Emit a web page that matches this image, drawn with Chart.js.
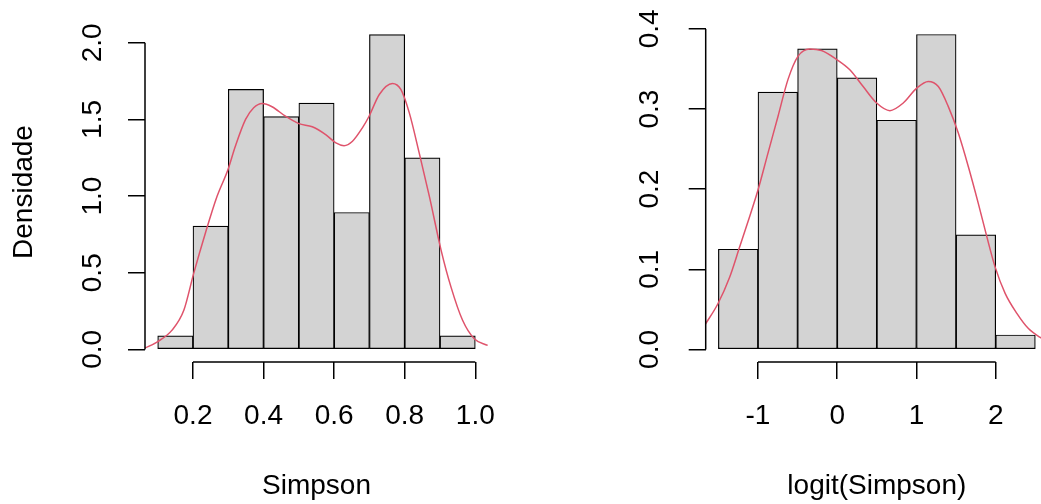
<!DOCTYPE html>
<html>
<head>
<meta charset="utf-8">
<script src="https://cdn.jsdelivr.net/npm/chart.js@4"></script>
<style>
  html, body { margin: 0; padding: 0; background: #fff; overflow: hidden; width: 1041px; height: 504px; }
  .panel { position: absolute; top: 0; }
</style>
</head>
<body>
<div class="panel" style="left:0"><canvas id="simpsonChart" width="520" height="504"></canvas></div>
<div class="panel" style="left:520px"><canvas id="logitChart" width="540" height="504"></canvas></div>
<script>
// histogram of Simpson (bin midpoints and density)
const simpsonMids = [0.15, 0.25, 0.35, 0.45, 0.55, 0.65, 0.75, 0.85, 0.95]
const simpsonDensity = [0.089, 0.804, 1.696, 1.518, 1.607, 0.893, 2.054, 1.25, 0.089]
// kernel density curve
const simpsonCurveX = [0.060, 0.098, 0.140, 0.174, 0.202, 0.235, 0.268, 0.299, 0.320, 0.349, 0.372, 0.396, 0.424, 0.462, 0.500, 0.538, 0.576, 0.605, 0.628, 0.652, 0.680, 0.699, 0.728, 0.765, 0.789, 0.813, 0.841, 0.870, 0.903, 0.931, 0.964, 0.997, 1.035]
const simpsonCurveY = [0.005, 0.048, 0.124, 0.255, 0.496, 0.758, 0.997, 1.172, 1.325, 1.500, 1.576, 1.604, 1.583, 1.521, 1.473, 1.452, 1.401, 1.347, 1.329, 1.358, 1.445, 1.521, 1.663, 1.735, 1.696, 1.543, 1.282, 0.997, 0.648, 0.408, 0.190, 0.070, 0.026]
const simpsonXTicks = [0.2, 0.4, 0.6, 0.8, 1.0]
const simpsonXLabels = ['0.2', '0.4', '0.6', '0.8', '1.0']
const simpsonYTicks = [0, 0.5, 1, 1.5, 2]
const simpsonYLabels = ['0.0', '0.5', '1.0', '1.5', '2.0']

// histogram of logit(Simpson)
const logitMids = [-1.25, -0.75, -0.25, 0.25, 0.75, 1.25, 1.75, 2.25]
const logitDensity = [0.125, 0.321, 0.375, 0.339, 0.286, 0.393, 0.143, 0.018]
const logitCurveX = [-1.674, -1.506, -1.358, -1.231, -1.105, -1.0, -0.874, -0.747, -0.621, -0.494, -0.346, -0.199, -0.009, 0.159, 0.327, 0.497, 0.665, 0.833, 1.003, 1.149, 1.276, 1.402, 1.528, 1.655, 1.781, 1.887, 1.992, 2.119, 2.267, 2.413, 2.561, 2.7]
const logitCurveY = [0.030, 0.057, 0.090, 0.128, 0.166, 0.199, 0.245, 0.291, 0.337, 0.366, 0.375, 0.373, 0.362, 0.349, 0.328, 0.3075, 0.298, 0.3075, 0.326, 0.3345, 0.328, 0.303, 0.270, 0.228, 0.182, 0.141, 0.103, 0.070, 0.045, 0.026, 0.015, 0.008]
const logitXTicks = [-1, 0, 1, 2]
const logitXLabels = ['-1', '0', '1', '2']
const logitYTicks = [0, 0.1, 0.2, 0.3, 0.4]
const logitYLabels = ['0.0', '0.1', '0.2', '0.3', '0.4']

Chart.defaults.font.family = '"Liberation Sans", Arial, sans-serif'
Chart.defaults.font.size = 28
Chart.defaults.color = '#000'

// R-style axes: line only from first to last tick, rotated y labels
const rAxes = {
  id: 'rAxes',
  afterDraw (chart, args, opts) {
    const { ctx } = chart
    const x = chart.scales.x
    const y = chart.scales.y
    ctx.save()
    ctx.strokeStyle = '#000'
    ctx.lineWidth = 1.5
    ctx.beginPath()
    ctx.moveTo(x.getPixelForValue(opts.xTicks[0]), y.bottom)
    ctx.lineTo(x.getPixelForValue(opts.xTicks[opts.xTicks.length - 1]), y.bottom)
    ctx.moveTo(x.left, y.getPixelForValue(opts.yTicks[0]))
    ctx.lineTo(x.left, y.getPixelForValue(opts.yTicks[opts.yTicks.length - 1]))
    ctx.stroke()
    ctx.fillStyle = '#000'
    ctx.font = '28px "Liberation Sans", Arial, sans-serif'
    ctx.textAlign = 'center'
    ctx.textBaseline = 'middle'
    opts.yTicks.forEach((v, i) => {
      ctx.save()
      ctx.translate(x.left - opts.labelGap, y.getPixelForValue(v))
      ctx.rotate(-Math.PI / 2)
      ctx.fillText(opts.yLabels[i], 0, 0)
      ctx.restore()
    })
    ctx.restore()
  }
}

function makeHist (canvas, cfg) {
  new Chart(canvas, {
    type: 'bar',
    data: {
      datasets: [
        {
          type: 'line',
          data: cfg.curveX.map((v, i) => ({ x: v, y: cfg.curveY[i] })),
          borderColor: '#DF536B',
          borderWidth: 1.5,
          pointRadius: 0,
          cubicInterpolationMode: 'monotone',
          clip: 0,
          order: 0
        },
        {
          data: cfg.mids.map((v, i) => ({ x: v, y: cfg.density[i] })),
          backgroundColor: '#D3D3D3',
          borderColor: '#000',
          borderWidth: 1.2,
          borderSkipped: false,
          barPercentage: 1,
          categoryPercentage: 1,
          order: 1
        }
      ]
    },
    options: {
      responsive: false,
      animation: false,
      events: [],
      layout: { padding: { top: 22, right: cfg.padRight, left: 0, bottom: 0 } },
      plugins: {
        legend: { display: false },
        tooltip: { enabled: false },
        rAxes: { xTicks: cfg.xTicks, yTicks: cfg.yTicks, yLabels: cfg.yLabels, labelGap: cfg.labelGap }
      },
      scales: {
        x: {
          type: 'linear',
          offset: false,
          min: cfg.xMin,
          max: cfg.xMax,
          afterBuildTicks: (s) => { s.ticks = cfg.xTicks.map(v => ({ value: v })) },
          afterFit: (s) => { s.height = 142 },
          border: { display: false },
          grid: { offset: false, drawOnChartArea: false, tickLength: 17, color: '#000', lineWidth: 1.5 },
          ticks: {
            autoSkip: false,
            maxRotation: 0,
            padding: 20,
            callback: (v, i) => cfg.xLabels[i]
          },
          title: { display: true, text: cfg.xTitle, padding: { top: 0, bottom: 1 } }
        },
        y: {
          min: cfg.yMin,
          max: cfg.yMax,
          afterBuildTicks: (s) => { s.ticks = cfg.yTicks.map(v => ({ value: v })) },
          afterFit: (s) => { s.width = cfg.left },
          border: { display: false },
          grid: { drawOnChartArea: false, tickLength: 17, color: '#000', lineWidth: 1.5 },
          ticks: { display: false },
          title: { display: !!cfg.yTitle, text: cfg.yTitle, padding: { top: 7, bottom: 0 } }
        }
      }
    },
    plugins: [rAxes]
  })
}

makeHist(document.querySelector('#simpsonChart'), {
  mids: simpsonMids,
  density: simpsonDensity,
  curveX: simpsonCurveX,
  curveY: simpsonCurveY,
  xTicks: simpsonXTicks,
  xLabels: simpsonXLabels,
  yTicks: simpsonYTicks,
  yLabels: simpsonYLabels,
  xMin: 0.064,
  xMax: 1.036,
  yMin: -0.0822,
  yMax: 2.1357,
  left: 145,
  padRight: 32,
  labelGap: 52,
  xTitle: 'Simpson',
  yTitle: 'Densidade'
})

makeHist(document.querySelector('#logitChart'), {
  mids: logitMids,
  density: logitDensity,
  curveX: logitCurveX,
  curveY: logitCurveY,
  xTicks: logitXTicks,
  xLabels: logitXLabels,
  yTicks: logitYTicks,
  yLabels: logitYLabels,
  xMin: -1.66,
  xMax: 2.66,
  yMin: -0.0157,
  yMax: 0.4086,
  left: 185.7,
  padRight: 12,
  labelGap: 55,
  xTitle: 'logit(Simpson)',
  yTitle: ''
})
</script>
</body>
</html>
